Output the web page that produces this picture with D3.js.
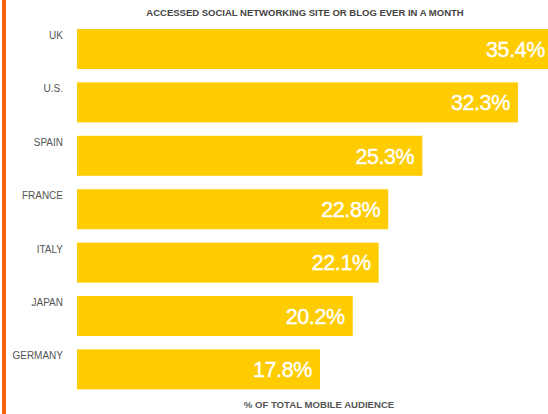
<!DOCTYPE html>
<html><head><meta charset="utf-8">
<script src="https://cdn.jsdelivr.net/npm/d3@7"></script>
<style>body{margin:0;background:#fff;}svg{display:block;}</style>
</head><body>
<script>
const countries = ["UK","U.S.","SPAIN","FRANCE","ITALY","JAPAN","GERMANY"];
const values = [35.4,32.3,25.3,22.8,22.1,20.2,17.8];
const title = "ACCESSED SOCIAL NETWORKING SITE OR BLOG EVER IN A MONTH";
const axisTitle = "% OF TOTAL MOBILE AUDIENCE";

const W=548,H=414;
const svg=d3.select("body").append("svg").attr("width",W).attr("height",H);
svg.append("rect").attr("x",2).attr("y",0).attr("width",4).attr("height",H).attr("fill","#f5650f");

const x=d3.scaleLinear().domain([0,1]).range([77,77+13.65]);
const step=53.4, bh=40;
const y=d3.scaleBand().domain(countries).range([29,29+step*7-(step-bh)])
  .paddingInner((step-bh)/step).paddingOuter(0);

const font="Liberation Sans, Arial, sans-serif";
const g=svg.append("g");
g.selectAll("rect.bar").data(countries).join("rect").attr("class","bar")
 .attr("x",x(0)).attr("y",d=>y(d)).attr("height",y.bandwidth())
 .attr("width",(d,i)=>x(values[i])-x(0)).attr("fill","#ffcc00");
g.selectAll("text.val").data(countries).join("text").attr("class","val")
 .attr("x",(d,i)=>Math.min(x(values[i])-8,W-3)).attr("y",d=>y(d)+y.bandwidth()/2).attr("dy","0.36em")
 .attr("text-anchor","end").attr("fill","#fff")
 .style("font-family",font).style("font-size","21.5px").style("letter-spacing","-0.4px")
 .style("stroke","#fff").style("stroke-width","0.4px")
 .text((d,i)=>values[i].toFixed(1)+"%");
g.selectAll("text.cat").data(countries).join("text").attr("class","cat")
 .attr("x",63).attr("y",d=>y(d)+10).attr("text-anchor","end").attr("fill","#555")
 .style("font-family",font).style("font-size","10px")
 .text(d=>d);
svg.append("text").attr("x",305).attr("y",16).attr("text-anchor","middle").attr("fill","#444")
 .style("font-family",font).style("font-size","9.5px").style("font-weight","bold")
 .text(title);
svg.append("text").attr("x",319).attr("y",408).attr("text-anchor","middle").attr("fill","#555")
 .style("font-family",font).style("font-size","9.6px").style("font-weight","bold")
 .text(axisTitle);
</script>
</body></html>
